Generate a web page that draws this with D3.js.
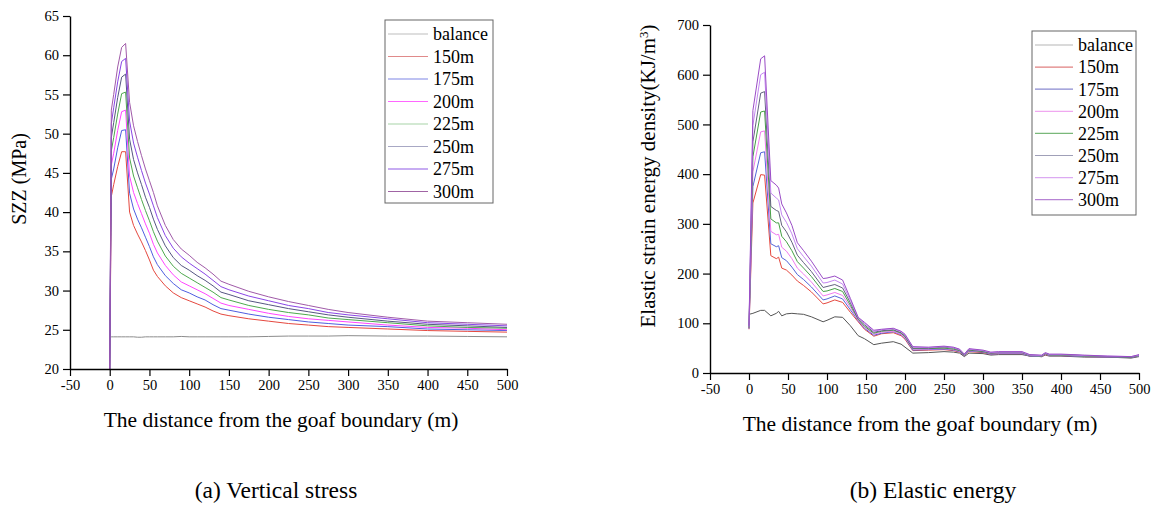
<!DOCTYPE html>
<html>
<head>
<meta charset="utf-8">
<script src="https://cdn.jsdelivr.net/npm/d3@7"></script>
<style>
  html, body { margin: 0; padding: 0; background: #fff; }
  svg { display: block; }
  text { font-family: "Liberation Serif", "Times New Roman", Times, serif; fill: #000; }
</style>
</head>
<body>
<svg id="chart" width="1165" height="505"></svg>
<script>
// ---------- Data ----------
const seriesNames = ["balance", "150m", "175m", "200m", "225m", "250m", "275m", "300m"];

// (a) Vertical stress
const stressX = [0, 2, 5, 10, 15, 20, 25, 30, 35, 40, 45, 50, 55, 60, 70, 80, 90, 100, 110, 120, 130, 140, 150, 175, 200, 225, 250, 275, 300, 350, 400, 450, 500];
const stressBalance = [24.1, 24.1, 24.1, 24.1, 24.1, 24.1, 24.1, 24.1, 24.05, 24.05, 24.1, 24.1, 24.1, 24.1, 24.1, 24.1, 24.15, 24.1, 24.1, 24.1, 24.1, 24.1, 24.1, 24.1, 24.15, 24.2, 24.2, 24.2, 24.25, 24.2, 24.2, 24.15, 24.1];
const stress150 = [20, 42, 43.5, 45.8, 47.7, 47.7, 40, 38.3, 37.2, 36.2, 35.1, 33.9, 32.6, 31.8, 30.6, 29.7, 29.1, 28.7, 28.3, 27.9, 27.4, 27, 26.8, 26.4, 26.1, 25.8, 25.6, 25.4, 25.3, 25.1, 24.9, 24.8, 24.7];
const stress175 = [20, 44.2, 45.5, 48.2, 50.4, 50.5, 42.4, 40.4, 39.1, 38, 36.8, 35.6, 34.3, 33.3, 31.9, 30.9, 30.1, 29.7, 29.2, 28.8, 28.2, 27.7, 27.5, 27, 26.6, 26.3, 26, 25.8, 25.6, 25.4, 25.1, 25, 24.9];
const stress200 = [20, 46, 47.5, 50.4, 52.8, 53, 44.6, 42.5, 41.1, 39.8, 38.5, 37.3, 35.9, 34.8, 33.2, 32, 31.1, 30.6, 30.1, 29.6, 29, 28.4, 28.1, 27.6, 27.1, 26.7, 26.4, 26.2, 26, 25.6, 25.3, 25.2, 25];
const stress225 = [20, 47.8, 49.5, 52.5, 55.1, 55.3, 46.9, 44.6, 43.1, 41.6, 40.2, 38.9, 37.5, 36.3, 34.4, 33.1, 32.2, 31.6, 31, 30.4, 29.8, 29.1, 28.8, 28.1, 27.6, 27.2, 26.9, 26.5, 26.3, 25.9, 25.5, 25.3, 25.2];
const stress250 = [20, 49.5, 51.4, 54.6, 57.2, 57.6, 49.3, 46.7, 45, 43.5, 41.9, 40.6, 39.1, 37.8, 35.7, 34.2, 33.2, 32.6, 31.9, 31.3, 30.6, 29.8, 29.5, 28.7, 28.2, 27.7, 27.3, 26.9, 26.6, 26.1, 25.7, 25.5, 25.3];
const stress275 = [20, 51.3, 53.3, 56.6, 59.2, 59.6, 51.6, 48.8, 47, 45.3, 43.7, 42.3, 40.8, 39.3, 37, 35.4, 34.3, 33.5, 32.8, 32.1, 31.3, 30.5, 30.1, 29.3, 28.7, 28.1, 27.7, 27.2, 26.9, 26.4, 25.9, 25.7, 25.5];
const stress300 = [20, 53, 55, 58.5, 61, 61.5, 54, 51, 49, 47.2, 45.5, 44, 42.5, 40.8, 38.3, 36.5, 35.3, 34.5, 33.6, 32.9, 32.1, 31.2, 30.8, 29.9, 29.2, 28.6, 28.1, 27.6, 27.2, 26.6, 26.1, 25.9, 25.7];

// (b) Elastic energy
const energyX = [0, 5, 15, 20, 28, 35, 38, 42, 48, 55, 62, 70, 80, 95, 100, 110, 120, 130, 140, 148, 160, 170, 185, 195, 200, 210, 230, 250, 262, 270, 276, 282, 300, 310, 320, 350, 360, 375, 380, 385, 400, 430, 460, 490, 500];
const energyBalance = [118, 120, 126, 126, 115, 120, 124, 115, 119, 120, 119, 118, 113, 103, 106, 113, 112, 95, 75, 69, 57, 60, 63, 58, 52, 40, 41, 43, 42, 40, 33, 40, 39, 36, 37, 37, 34, 33, 36, 34, 34, 32, 32, 30, 33];
const energy150 = [88, 342, 399, 398, 236, 230, 233, 211, 207, 197, 185, 176, 163, 139, 141, 147, 142, 122, 103, 88, 74, 79, 81, 75, 68, 45, 46, 47, 45, 42, 35, 43, 41, 38, 39, 39, 34, 33, 37, 35, 35, 33, 32, 31, 34];
const energy175 = [89, 375, 443, 445, 260, 254, 256, 232, 226, 213, 198, 188, 173, 147, 149, 155, 149, 127, 105, 90, 76, 80, 83, 77, 70, 46, 47, 48, 46, 43, 35, 44, 42, 38, 39, 39, 34, 33, 38, 35, 35, 33, 32, 31, 34];
const energy200 = [90, 405, 485, 487, 285, 278, 279, 253, 245, 230, 211, 199, 183, 155, 157, 162, 156, 132, 106, 92, 78, 82, 84, 78, 71, 48, 48, 49, 47, 44, 36, 45, 43, 39, 40, 40, 35, 34, 38, 36, 36, 34, 33, 32, 35];
const energy225 = [91, 435, 525, 527, 310, 302, 302, 275, 264, 246, 224, 211, 194, 164, 165, 170, 164, 136, 108, 94, 80, 84, 86, 80, 73, 49, 49, 50, 48, 45, 36, 46, 43, 40, 41, 41, 35, 34, 39, 36, 36, 34, 33, 32, 35];
const energy250 = [92, 465, 563, 566, 335, 327, 325, 297, 284, 263, 237, 222, 204, 172, 174, 178, 171, 141, 109, 97, 82, 85, 87, 81, 75, 50, 50, 52, 50, 46, 37, 47, 44, 40, 41, 41, 36, 35, 39, 37, 37, 35, 33, 32, 36];
const energy275 = [93, 498, 600, 605, 362, 352, 348, 318, 303, 280, 250, 234, 215, 181, 182, 187, 179, 146, 111, 100, 84, 87, 89, 83, 76, 52, 51, 53, 51, 47, 37, 48, 45, 41, 42, 42, 36, 35, 40, 37, 37, 35, 34, 33, 36];
const energy300 = [95, 528, 632, 638, 387, 378, 372, 340, 322, 297, 262, 246, 225, 190, 191, 195, 187, 150, 112, 102, 86, 88, 90, 84, 78, 53, 52, 54, 52, 48, 38, 49, 46, 42, 43, 43, 37, 36, 41, 38, 38, 36, 34, 33, 37];

const xTicks = [-50, 0, 50, 100, 150, 200, 250, 300, 350, 400, 450, 500];
const stressYTicks = [20, 25, 30, 35, 40, 45, 50, 55, 60, 65];
const energyYTicks = [0, 100, 200, 300, 400, 500, 600, 700];

const stressColors = ["#8c8c8c", "#e5483f", "#4f5ee0", "#ff45ff", "#4ea84e", "#565682", "#8a45e6", "#a05aa8"];
const energyColors = ["#555555", "#e5483f", "#5565d8", "#f07af0", "#45a045", "#62627e", "#c486f2", "#9a4cc6"];

// ---------- Drawing ----------
const FONT = '"Liberation Serif", "Times New Roman", Times, serif';
const svg = d3.select("#chart");
svg.append("rect").attr("width", 1165).attr("height", 505).attr("fill", "#fff");

function panel(cfg) {
  const g = svg.append("g").attr("font-family", FONT);
  const x = d3.scaleLinear().domain([-50, 500]).range(cfg.xRange);
  const y = d3.scaleLinear().domain(cfg.yDomain).range(cfg.yRange);

  const line = d3.line().x(d => x(d[0])).y(d => y(d[1]));
  cfg.series.forEach((s, i) => {
    const pts = cfg.xs.map((xv, k) => [xv, s[k]]);
    g.append("path")
      .attr("d", line(pts))
      .attr("fill", "none")
      .attr("stroke", cfg.colors[i])
      .attr("stroke-width", 1)
      .attr("stroke-linejoin", "round");
  });

  const fmt = d => String(d); // plain hyphen for negatives
  const xAxis = d3.axisBottom(x).tickValues(xTicks).tickFormat(fmt).tickSize(7).tickPadding(4).tickSizeOuter(0);
  const yAxis = d3.axisLeft(y).tickValues(cfg.yTicks).tickFormat(fmt).tickSize(7).tickPadding(4).tickSizeOuter(0);

  const gx = g.append("g").attr("transform", `translate(0,${cfg.yRange[0]})`).call(xAxis);
  const gy = g.append("g").attr("transform", `translate(${cfg.xRange[0]},0)`).call(yAxis);
  [gx, gy].forEach(a => {
    a.attr("font-family", FONT).attr("font-size", 14.5);
    a.selectAll("path").attr("stroke", "#000").attr("stroke-width", 1.4);
    a.selectAll("line").attr("stroke", "#000").attr("stroke-width", 1.2);
    a.selectAll("text").style("font-family", FONT).style("font-size", "14.5px").attr("fill", "#000");
  });

  // axis titles
  g.append("text")
    .attr("x", cfg.xTitlePos[0]).attr("y", cfg.xTitlePos[1])
    .attr("text-anchor", "middle").style("font-size", "21.5px")
    .text("The distance from the goaf boundary (m)");

  const yt = g.append("text")
    .attr("transform", `translate(${cfg.yTitlePos[0]},${cfg.yTitlePos[1]}) rotate(-90)`)
    .attr("text-anchor", "middle").style("font-size", cfg.yTitleSize);
  cfg.yTitle(yt);

  g.append("text")
    .attr("x", cfg.captionPos[0]).attr("y", cfg.captionPos[1])
    .attr("text-anchor", "middle").style("font-size", "23.5px")
    .text(cfg.caption);

  // legend
  const L = cfg.legend;
  g.append("rect")
    .attr("x", L.x).attr("y", L.y).attr("width", L.w).attr("height", L.h)
    .attr("fill", "#fff").attr("stroke", "#666").attr("stroke-width", 1);
  seriesNames.forEach((name, i) => {
    const cy = L.firstRow + i * L.step;
    g.append("line")
      .attr("x1", L.lx1).attr("x2", L.lx2).attr("y1", cy).attr("y2", cy)
      .attr("stroke", cfg.legendColors[i]).attr("stroke-width", 1.2);
    g.append("text")
      .attr("x", L.tx).attr("y", cy).attr("dy", "0.35em")
      .style("font-size", "18px").text(name);
  });
}

panel({
  xRange: [70, 507],
  yDomain: [20, 65],
  yRange: [369, 16],
  yTicks: stressYTicks,
  xs: stressX,
  series: [stressBalance, stress150, stress175, stress200, stress225, stress250, stress275, stress300],
  colors: stressColors,
  legendColors: ["#bdbdbd", "#e08a8a", "#7f86e6", "#ff66ff", "#a8d4a8", "#a8a8c4", "#8f5be6", "#a064a4"],
  xTitlePos: [281, 427],
  yTitlePos: [26, 179],
  yTitleSize: "20px",
  yTitle: t => t.text("SZZ (MPa)"),
  caption: "(a) Vertical stress",
  captionPos: [276, 498],
  legend: { x: 385, y: 20, w: 108, h: 183, firstRow: 34, step: 22.5, lx1: 388, lx2: 428, tx: 433 }
});

panel({
  xRange: [710, 1139],
  yDomain: [0, 700],
  yRange: [373, 25],
  yTicks: energyYTicks,
  xs: energyX,
  series: [energyBalance, energy150, energy175, energy200, energy225, energy250, energy275, energy300],
  colors: energyColors,
  legendColors: ["#b5b5b5", "#e08080", "#8a8ad0", "#f0a8f0", "#7ab87a", "#a0a0b8", "#dcaaf2", "#b784d4"],
  xTitlePos: [920, 431],
  yTitlePos: [655, 176],
  yTitleSize: "21px",
  yTitle: t => {
    t.append("tspan").text("Elastic strain energy density(KJ/m");
    t.append("tspan").attr("baseline-shift", "super").style("font-size", "13px").text("3");
    t.append("tspan").text(")");
  },
  caption: "(b) Elastic energy",
  captionPos: [933, 498],
  legend: { x: 1032, y: 31, w: 104, h: 184, firstRow: 45, step: 22.1, lx1: 1035, lx2: 1073, tx: 1078 }
});
</script>
</body>
</html>
